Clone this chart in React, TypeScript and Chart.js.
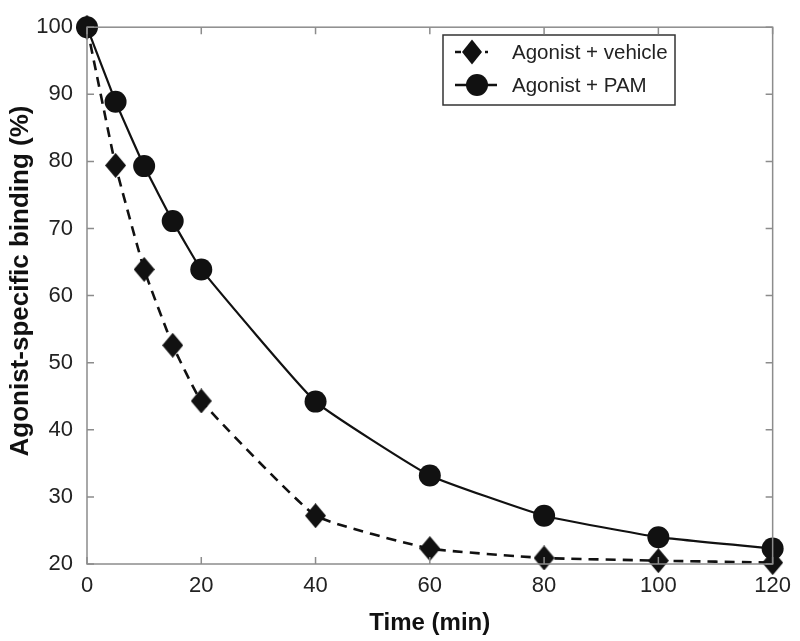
import React, { useEffect, useRef } from "react";
import { Chart, registerables } from "chart.js";

Chart.register(...registerables);

const timeMin = [0, 5, 10, 15, 20, 40, 60, 80, 100, 120];
const vehicleValues = [100, 79.4, 63.9, 52.6, 44.3, 27.2, 22.3, 20.9, 20.5, 20.2];
const pamValues = [100, 88.9, 79.3, 71.1, 63.9, 44.2, 33.2, 27.2, 24.0, 22.3];
const seriesLabels = ["Agonist + vehicle", "Agonist + PAM"];
const xTitle = "Time (min)";
const yTitle = "Agonist-specific binding (%)";

const INK = "#111111";
const AXIS = "#8c8c8c";
const FONT = "'Liberation Sans', Arial, sans-serif";

function makeDiamond(w: number, h: number) {
  const c = document.createElement("canvas");
  c.width = w;
  c.height = h;
  const g = c.getContext("2d")!;
  g.fillStyle = INK;
  g.beginPath();
  g.moveTo(w / 2, 0);
  g.lineTo(w, h / 2);
  g.lineTo(w / 2, h);
  g.lineTo(0, h / 2);
  g.closePath();
  g.fill();
  return c;
}

const framePlugin = {
  id: "frame",
  afterDraw(chart: any) {
    const { ctx, chartArea: a, scales } = chart;
    ctx.save();
    ctx.strokeStyle = AXIS;
    ctx.lineWidth = 1.5;
    ctx.strokeRect(a.left, a.top, a.right - a.left, a.bottom - a.top);
    const tl = 7;
    ctx.beginPath();
    scales.x.ticks.forEach((t: any) => {
      const px = scales.x.getPixelForValue(t.value);
      ctx.moveTo(px, a.bottom);
      ctx.lineTo(px, a.bottom - tl);
      ctx.moveTo(px, a.top);
      ctx.lineTo(px, a.top + tl);
    });
    scales.y.ticks.forEach((t: any) => {
      const py = scales.y.getPixelForValue(t.value);
      ctx.moveTo(a.left, py);
      ctx.lineTo(a.left + tl, py);
      ctx.moveTo(a.right, py);
      ctx.lineTo(a.right - tl, py);
    });
    ctx.stroke();
    // y-axis title, slightly above the plot's vertical centre as in the reference
    ctx.translate(21, 281);
    ctx.rotate(-Math.PI / 2);
    ctx.fillStyle = "#111";
    ctx.font = `bold 26px ${FONT}`;
    ctx.textAlign = "center";
    ctx.textBaseline = "middle";
    ctx.fillText(yTitle, 0, 0);
    ctx.restore();
  },
};

const legendPlugin = {
  id: "boxLegend",
  afterDatasetsDraw(chart: any) {
    const { ctx } = chart;
    ctx.save();
    const bx = 443, by = 35, bw = 232, bh = 70;
    ctx.fillStyle = "#ffffff";
    ctx.fillRect(bx, by, bw, bh);
    ctx.strokeStyle = "#333333";
    ctx.lineWidth = 1.5;
    ctx.strokeRect(bx, by, bw, bh);
    const rows = [
      { y: 52, style: "diamond", dash: [6, 4], label: seriesLabels[0], x1: 455, x2: 488, mx: 472 },
      { y: 85, style: "circle", dash: [], label: seriesLabels[1], x1: 455, x2: 497, mx: 477 },
    ];
    rows.forEach((r) => {
      ctx.strokeStyle = INK;
      ctx.lineWidth = 2.5;
      ctx.setLineDash(r.dash);
      ctx.beginPath();
      ctx.moveTo(r.x1, r.y);
      ctx.lineTo(r.x2, r.y);
      ctx.stroke();
      ctx.setLineDash([]);
      ctx.fillStyle = INK;
      ctx.beginPath();
      if (r.style === "circle") {
        ctx.arc(r.mx, r.y, 11, 0, Math.PI * 2);
      } else {
        ctx.moveTo(r.mx, r.y - 12.5);
        ctx.lineTo(r.mx + 10, r.y);
        ctx.lineTo(r.mx, r.y + 12.5);
        ctx.lineTo(r.mx - 10, r.y);
        ctx.closePath();
      }
      ctx.fill();
      ctx.fillStyle = "#222222";
      ctx.font = `20.5px ${FONT}`;
      ctx.textBaseline = "middle";
      ctx.textAlign = "left";
      ctx.fillText(r.label, 512, r.y + 1);
    });
    ctx.restore();
  },
};

export default function App() {
  const ref = useRef<HTMLCanvasElement | null>(null);
  useEffect(() => {
    if (!ref.current) return;
    const diamond = makeDiamond(21, 25);
    const chart = new Chart(ref.current, {
      type: "line",
      data: {
        datasets: [
          {
            label: seriesLabels[1],
            data: timeMin.map((t, i) => ({ x: t, y: pamValues[i] })),
            borderColor: INK,
            backgroundColor: INK,
            borderWidth: 2.2,
            pointStyle: "circle",
            pointRadius: 11,
            pointBorderWidth: 0,
            tension: 0.12,
            clip: false as any,
          },
          {
            label: seriesLabels[0],
            data: timeMin.map((t, i) => ({ x: t, y: vehicleValues[i] })),
            borderColor: INK,
            backgroundColor: INK,
            borderWidth: 2.6,
            borderDash: [10, 7],
            pointStyle: diamond as any,
            pointRadius: 11,
            pointBorderWidth: 0,
            tension: 0.12,
            clip: false as any,
          },
        ],
      },
      options: {
        animation: false,
        responsive: false,
        layout: { padding: { top: 19, right: 23, left: 0, bottom: 0 } },
        plugins: { legend: { display: false }, tooltip: { enabled: false } },
        scales: {
          x: {
            type: "linear",
            min: 0,
            max: 120,
            ticks: { stepSize: 20, padding: 9, color: "#222", font: { size: 22, family: FONT } },
            grid: { display: false, drawTicks: false },
            border: { display: false },
            title: {
              display: true,
              text: xTitle,
              color: "#111",
              font: { size: 24, weight: "bold", family: FONT },
              padding: { top: 0, bottom: 3 },
            },
            afterFit(s: any) {
              s.height = 77;
            },
          },
          y: {
            type: "linear",
            min: 20,
            max: 100,
            ticks: { stepSize: 10, padding: 14, color: "#222", font: { size: 22, family: FONT } },
            grid: { display: false, drawTicks: false },
            border: { display: false },
            title: { display: false },
            afterFit(s: any) {
              s.width = 87;
            },
          },
        },
      },
      plugins: [framePlugin, legendPlugin],
    } as any);
    return () => chart.destroy();
  }, []);
  return (
    <div style={{ position: "absolute", left: 0, top: 0, width: 800, height: 641, background: "#fff" }}>
      <canvas ref={ref} width={800} height={641} style={{ display: "block" }} />
    </div>
  );
}
